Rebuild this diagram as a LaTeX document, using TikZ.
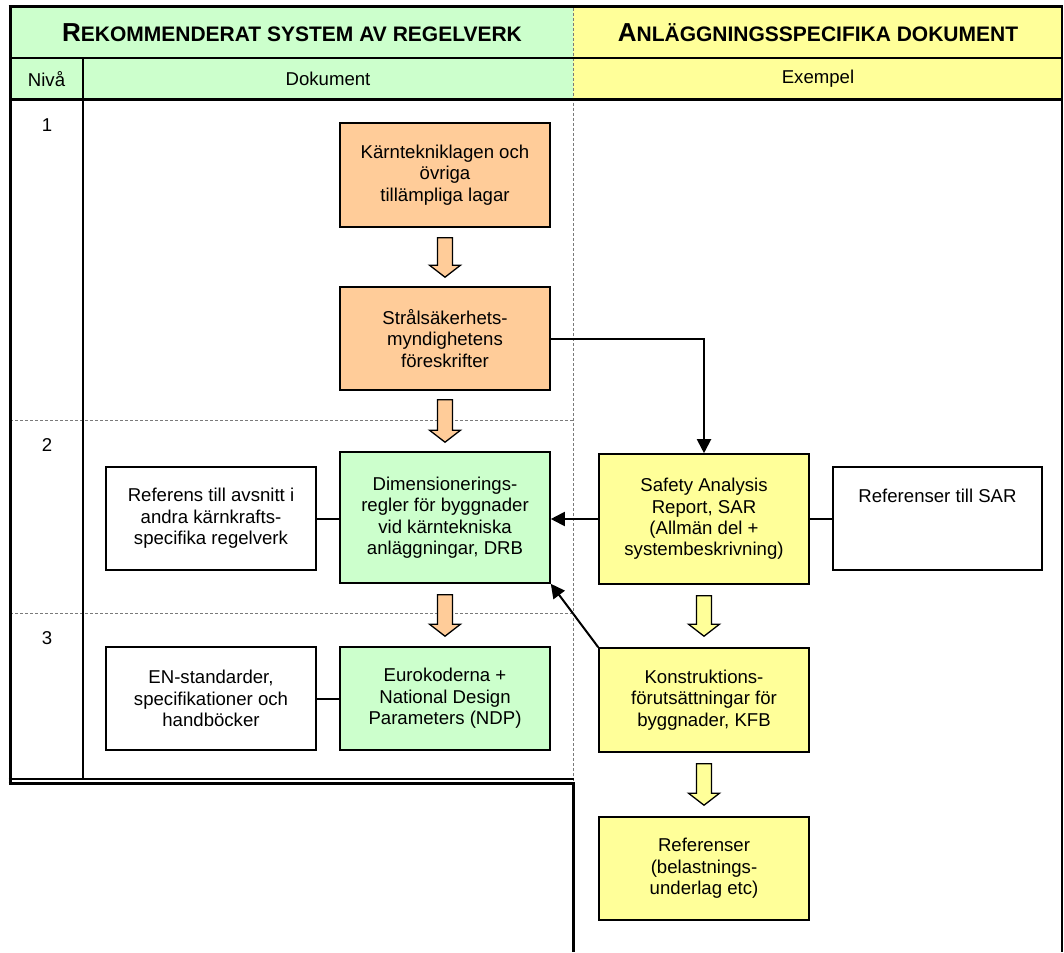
\documentclass[tikz,border=0pt]{standalone}
\usepackage{fontspec}
\setmainfont{Liberation Sans}
\usetikzlibrary{arrows.meta}

\definecolor{orangefill}{HTML}{FFCC99}
\definecolor{greenfill}{HTML}{CCFFCC}
\definecolor{yellowfill}{HTML}{FFFF99}
\definecolor{rulegray}{HTML}{7A7A7A}

\newcommand\smallcapshead[2]{{\bfseries\fontsize{26}{30}\selectfont #1\fontsize{21}{25}\selectfont #2}}

\begin{document}
\begin{tikzpicture}[x=1pt,y=-1pt,
  txt/.style={font=\fontsize{18.6}{21.4}\selectfont, align=center, inner sep=0pt},
  docbox/.style={txt, draw=black, line width=1.6pt, minimum width=210pt, minimum height=#1},
  orangebox/.style={docbox=#1, fill=orangefill},
  greenbox/.style={docbox=#1, fill=greenfill},
  yellowbox/.style={docbox=#1, fill=yellowfill},
  whitebox/.style={docbox=#1, fill=white},
  thickrule/.style={line width=3pt},
  thinrule/.style={line width=1.5pt},
  levelrule/.style={draw=rulegray, line width=0.9pt, dash pattern=on 3pt off 2pt},
  link/.style={line width=2pt},
  linkarrow/.style={line width=2pt, -{Triangle[length=14pt,width=14pt]}},
  blockarrow/.style={draw=black, line width=1.3pt, fill=#1, line join=miter,
    to path={([xshift=-7.5pt]\tikztostart) -- ([xshift=7.5pt]\tikztostart)
      -- ([xshift=7.5pt,yshift=12pt]\tikztotarget) -- ([xshift=15.5pt,yshift=12pt]\tikztotarget)
      -- (\tikztotarget) -- ([xshift=-15.5pt,yshift=12pt]\tikztotarget)
      -- ([xshift=-7.5pt,yshift=12pt]\tikztotarget) -- cycle}},
]
\useasboundingbox (0,0) rectangle (1064,952);
\fill[white] (0,0) rectangle (1064,952);

% header bands
\fill[greenfill] (10,8) rectangle (573,100);
\fill[yellowfill] (573,8) rectangle (1062,100);

\node (headleft) at (292,33) {\smallcapshead{R}{EKOMMENDERAT SYSTEM AV REGELVERK}};
\node (headright) at (818,33) {\smallcapshead{A}{NLÄGGNINGSSPECIFIKA DOKUMENT}};
\node[txt] (colniva) at (46.5,79) {Nivå};
\node[txt] (coldok) at (328,79) {Dokument};
\node[txt] (colex) at (818,79) {Exempel};

% level numbers
\node[txt] (lev1) at (47,125) {1};
\node[txt] (lev2) at (47,445) {2};
\node[txt] (lev3) at (47,638) {3};

% table rules
\draw[levelrule] (573,8) -- (573,781);
\draw[levelrule] (10,420) -- (573,420);
\draw[levelrule] (10,613) -- (573,613);
\draw[thinrule] (10,58) -- (1062,58);
\draw[thinrule] (83,58) -- (83,780);
\draw[thickrule] (10,100) -- (1062,100);
\draw[thickrule] (8.5,7) -- (1063,7);
\draw[line width=2pt] (1062,7) -- (1062,952);
\draw[thickrule] (10,7) -- (10,784);
\draw[line width=1.6pt] (8.5,779) -- (574,779);
\draw[line width=2.6pt] (8.5,783.5) -- (574.3,783.5);
\draw[thickrule] (573,782) -- (573,952);

% documents, left part
\node[orangebox=104pt] (lagar) at (445,175) {Kärntekniklagen och\\övriga\\tillämpliga lagar};
\node[orangebox=103pt] (ssm) at (445,338.5) {Strålsäkerhets-\\myndighetens\\föreskrifter};
\node[greenbox=131pt] (drb) at (445,517.5) {Dimensionerings-\\regler för byggnader\\vid kärntekniska\\anläggningar, DRB};
\node[whitebox=103pt] (refavsnitt) at (211,518.5) {Referens till avsnitt i\\andra kärnkrafts-\\specifika regelverk};
\node[greenbox=103pt] (euro) at (445,698.5) {Eurokoderna +\\National Design\\Parameters (NDP)};
\node[whitebox=103pt] (enstd) at (211,698.5) {EN-standarder,\\specifikationer och\\handböcker};

% documents, right part
\node[yellowbox=130pt] (sar) at (704,519) {Safety Analysis\\Report, SAR\\(Allmän del +\\systembeskrivning)};
\node[whitebox=103pt, minimum width=209pt] (refsar) at (937.5,518.5) {};
\node[txt] (refsartext) at ([yshift=-30pt]refsar.north) {Referenser till SAR};
\node[yellowbox=104pt] (kfb) at (704,700) {Konstruktions-\\förutsättningar för\\byggnader, KFB};
\node[yellowbox=103pt] (refbel) at (704,868.5) {Referenser\\(belastnings-\\underlag etc)};

% block arrows between levels
\draw[blockarrow=orangefill] ([yshift=-10pt]lagar.south) to ([yshift=9pt]ssm.north);
\draw[blockarrow=orangefill] ([yshift=-9pt]ssm.south) to ([yshift=9pt]drb.north);
\draw[blockarrow=orangefill] ([yshift=-11pt]drb.south) to ([yshift=10pt]euro.north);
\draw[blockarrow=yellowfill] ([yshift=-11pt]sar.south) to ([yshift=11pt]kfb.north);
\draw[blockarrow=yellowfill] ([yshift=-11pt]kfb.south) to ([yshift=11pt]refbel.north);

% connectors
\draw[linkarrow] (ssm.east) -| (sar.north);
\draw[linkarrow] (sar.west) -- (sar.west -| drb.east);
\draw[linkarrow] (kfb.north west) -- (drb.south east);
\draw[link] (refavsnitt.east) -- (refavsnitt.east -| drb.west);
\draw[link] (enstd.east) -- (euro.west);
\draw[link] (sar.east) -- (sar.east -| refsar.west);
\end{tikzpicture}
\end{document}
